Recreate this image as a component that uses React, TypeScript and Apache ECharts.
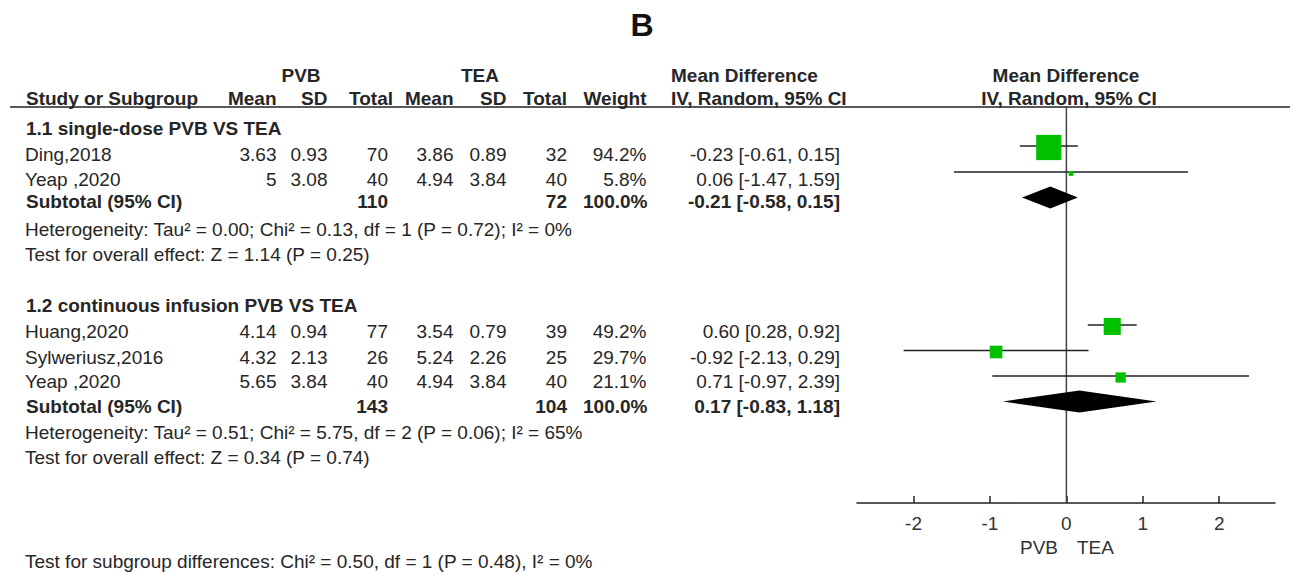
import React, { useEffect, useRef } from "react";
import * as echarts from "echarts";

// ---------- data ----------
const subgroupNames = ["1.1 single-dose PVB VS TEA", "1.2 continuous infusion PVB VS TEA"];
const studyNames = ["Ding,2018", "Yeap ,2020", "Huang,2020", "Sylweriusz,2016", "Yeap ,2020"];
const studyGroup = [0, 0, 1, 1, 1];
const pvbMean = [3.63, 5, 4.14, 4.32, 5.65];
const pvbSD = [0.93, 3.08, 0.94, 2.13, 3.84];
const pvbTotal = [70, 40, 77, 26, 40];
const teaMean = [3.86, 4.94, 3.54, 5.24, 4.94];
const teaSD = [0.89, 3.84, 0.79, 2.26, 3.84];
const teaTotal = [32, 40, 39, 25, 40];
const weights = [94.2, 5.8, 49.2, 29.7, 21.1];
const md = [-0.23, 0.06, 0.6, -0.92, 0.71];
const mdLow = [-0.61, -1.47, 0.28, -2.13, -0.97];
const mdHigh = [0.15, 1.59, 0.92, 0.29, 2.39];

const subPvbTotal = [110, 143];
const subTeaTotal = [72, 104];
const subWeight = [100.0, 100.0];
const subMd = [-0.21, 0.17];
const subLow = [-0.58, -0.83];
const subHigh = [0.15, 1.18];
const heterogeneity = [
  "Heterogeneity: Tau\u00b2 = 0.00; Chi\u00b2 = 0.13, df = 1 (P = 0.72); I\u00b2 = 0%",
  "Heterogeneity: Tau\u00b2 = 0.51; Chi\u00b2 = 5.75, df = 2 (P = 0.06); I\u00b2 = 65%",
];
const overallEffect = [
  "Test for overall effect: Z = 1.14 (P = 0.25)",
  "Test for overall effect: Z = 0.34 (P = 0.74)",
];
const subgroupDiff = "Test for subgroup differences: Chi\u00b2 = 0.50, df = 1 (P = 0.48), I\u00b2 = 0%";
const xTicks = [-2, -1, 0, 1, 2];
const xMin = -2.74;
const xMax = 2.73;

// ---------- layout (pixel rows) ----------
const W = 1291;
const H = 575;
const FONT = "'Liberation Sans', Arial, sans-serif";
const TXT = "#262626";
const headY0 = 75;
const headY1 = 98;
const groupTitleY = [128, 305];
const studyRowY = [154, 179, 331, 357, 381];
const subtotalY = [201, 406];
const hetY = [229, 432];
const testY = [254, 457];
const bottomY = 561;
const studyMarkY = [146, 172, 325, 350.5, 376];
const diamondY = [197.5, 401.5];
const headerLineY = 107;
const axisY = 503;

const col = {
  label: 26,
  pvbMean: 276.5,
  pvbSD: 327.5,
  pvbTotal: 388,
  teaMean: 453.5,
  teaSD: 506.5,
  teaTotal: 567,
  weight: 646.5,
  md: 840,
};

function sq(w: number) {
  return 1.65 * Math.pow(w, 0.6);
}

function txt(text: string, x: number, y: number, opts: any = {}) {
  return {
    type: "text",
    x,
    y,
    z: 10,
    style: {
      text,
      fontSize: opts.size || 19,
      fontFamily: FONT,
      fontWeight: opts.bold ? "bold" : "normal",
      fill: opts.fill || TXT,
      align: opts.align || "left",
      verticalAlign: "middle",
    },
  };
}

export default function App() {
  const ref = useRef<HTMLDivElement>(null);
  useEffect(() => {
    document.body.style.margin = "0";
    if (!ref.current) return;
    const chart = echarts.init(ref.current, null, { renderer: "svg" });

    const g: any[] = [];
    g.push(txt("B", 642, 25, { bold: true, size: 32, align: "center", fill: "#111" }));
    // headers
    g.push(txt("PVB", 301, headY0, { bold: true, align: "center" }));
    g.push(txt("TEA", 480, headY0, { bold: true, align: "center" }));
    g.push(txt("Mean Difference", 671, headY0, { bold: true }));
    g.push(txt("Mean Difference", 1066, headY0, { bold: true, align: "center" }));
    g.push(txt("Study or Subgroup", col.label, headY1, { bold: true }));
    g.push(txt("Mean", col.pvbMean, headY1, { bold: true, align: "right" }));
    g.push(txt("SD", col.pvbSD, headY1, { bold: true, align: "right" }));
    g.push(txt("Total", 393, headY1, { bold: true, align: "right" }));
    g.push(txt("Mean", col.teaMean, headY1, { bold: true, align: "right" }));
    g.push(txt("SD", col.teaSD, headY1, { bold: true, align: "right" }));
    g.push(txt("Total", col.teaTotal, headY1, { bold: true, align: "right" }));
    g.push(txt("Weight", col.weight, headY1, { bold: true, align: "right" }));
    g.push(txt("IV, Random, 95% CI", 671, headY1, { bold: true }));
    g.push(txt("IV, Random, 95% CI", 1069, headY1, { bold: true, align: "center" }));
    g.push({
      type: "line",
      z: 11,
      shape: { x1: 10, y1: headerLineY, x2: 1290, y2: headerLineY },
      style: { stroke: "#222", lineWidth: 1.5 },
    });

    subgroupNames.forEach((name, gi) => {
      g.push(txt(name, col.label, groupTitleY[gi], { bold: true }));
      g.push(txt("Subtotal (95% CI)", col.label, subtotalY[gi], { bold: true }));
      g.push(txt(String(subPvbTotal[gi]), col.pvbTotal, subtotalY[gi], { bold: true, align: "right" }));
      g.push(txt(String(subTeaTotal[gi]), col.teaTotal, subtotalY[gi], { bold: true, align: "right" }));
      g.push(txt(subWeight[gi].toFixed(1) + "%", col.weight + 1, subtotalY[gi], { bold: true, align: "right" }));
      g.push(
        txt(
          `${subMd[gi].toFixed(2)} [${subLow[gi].toFixed(2)}, ${subHigh[gi].toFixed(2)}]`,
          col.md,
          subtotalY[gi],
          { bold: true, align: "right" }
        )
      );
      g.push(txt(heterogeneity[gi], col.label - 1, hetY[gi]));
      g.push(txt(overallEffect[gi], col.label - 1, testY[gi]));
    });

    studyNames.forEach((name, i) => {
      const y = studyRowY[i];
      g.push(txt(name, col.label - 1, y));
      g.push(txt(String(pvbMean[i]), col.pvbMean, y, { align: "right" }));
      g.push(txt(String(pvbSD[i]), col.pvbSD, y, { align: "right" }));
      g.push(txt(String(pvbTotal[i]), col.pvbTotal, y, { align: "right" }));
      g.push(txt(String(teaMean[i]), col.teaMean, y, { align: "right" }));
      g.push(txt(String(teaSD[i]), col.teaSD, y, { align: "right" }));
      g.push(txt(String(teaTotal[i]), col.teaTotal, y, { align: "right" }));
      g.push(txt(weights[i].toFixed(1) + "%", col.weight, y, { align: "right" }));
      g.push(
        txt(`${md[i].toFixed(2)} [${mdLow[i].toFixed(2)}, ${mdHigh[i].toFixed(2)}]`, col.md, y, {
          align: "right",
        })
      );
    });

    g.push(txt(subgroupDiff, col.label - 1, bottomY));
    g.push(txt("PVB", 1058, 547, { align: "right", fill: "#333" }));
    g.push(txt("TEA", 1077, 547, { align: "left", fill: "#333" }));

    const option: any = {
      animation: false,
      backgroundColor: "#fff",
      grid: { left: 857, right: W - 1275, top: 0, bottom: H - axisY, containLabel: false },
      xAxis: {
        type: "value",
        min: xMin,
        max: xMax,
        splitLine: { show: false },
        axisLine: { show: true, onZero: false, lineStyle: { color: "#222", width: 1.5 } },
        axisTick: {
          show: true,
          inside: true,
          length: 7,
          customValues: xTicks,
          lineStyle: { color: "#222", width: 1.5 },
        },
        axisLabel: {
          show: true,
          customValues: xTicks,
          fontSize: 19,
          fontFamily: FONT,
          color: "#333",
          margin: 11,
          formatter: (v: number) => String(v),
        },
      },
      yAxis: { type: "value", min: 0, max: axisY, inverse: true, show: false },
      graphic: g,
      series: [
        {
          type: "line",
          data: [
            [0, headerLineY],
            [0, axisY],
          ],
          symbol: "none",
          lineStyle: { color: "#444", width: 1.5 },
          z: 1,
          silent: true,
        },
        {
          type: "custom",
          z: 2,
          data: studyNames.map((_, i) => [mdLow[i], mdHigh[i], studyMarkY[i]]),
          renderItem: (params: any, api: any) => {
            const a = api.coord([api.value(0), api.value(2)]);
            const b = api.coord([api.value(1), api.value(2)]);
            return {
              type: "line",
              shape: { x1: a[0], y1: a[1], x2: b[0], y2: b[1] },
              style: { stroke: "#222", lineWidth: 1.5 },
            };
          },
        },
        {
          type: "scatter",
          z: 3,
          symbol: "rect",
          itemStyle: { color: "#00C000", opacity: 1 },
          data: studyNames.map((_, i) => ({
            value: [md[i], studyMarkY[i] + 1.5],
            symbolSize: sq(weights[i]),
          })),
        },
        {
          type: "custom",
          z: 4,
          data: subgroupNames.map((_, gi) => [subLow[gi], subMd[gi], subHigh[gi], diamondY[gi]]),
          renderItem: (params: any, api: any) => {
            const y = api.value(3);
            const l = api.coord([api.value(0), y]);
            const m = api.coord([api.value(1), y]);
            const r = api.coord([api.value(2), y]);
            const h = 11;
            return {
              type: "polygon",
              shape: {
                points: [
                  [l[0], l[1]],
                  [m[0], m[1] - h],
                  [r[0], r[1]],
                  [m[0], m[1] + h],
                ],
              },
              style: { fill: "#000" },
            };
          },
        },
      ],
    };
    chart.setOption(option);
    return () => chart.dispose();
  }, []);
  return <div ref={ref} style={{ width: W, height: H }} />;
}
